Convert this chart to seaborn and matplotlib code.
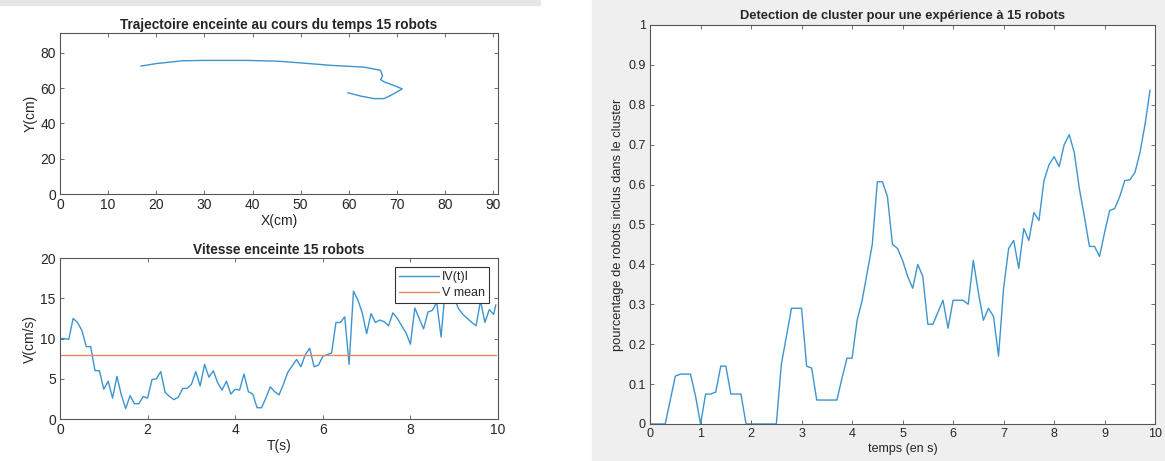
import numpy as np
import pandas as pd
import seaborn as sns
import matplotlib.pyplot as plt
from matplotlib.patches import Rectangle

# -------------------------------
# Data
# -------------------------------
traj_x = [16.8, 20.0, 25.4, 30.0, 39.0, 45.0, 49.5, 56.3, 63.2, 66.6, 67.0,
          66.6, 67.3, 69.4, 71.1, 69.7, 68.4, 67.3, 65.3, 62.5, 59.8]
traj_y = [72.4, 73.8, 75.4, 75.6, 75.6, 75.2, 74.3, 72.8, 71.8, 70.0, 66.7,
          64.8, 63.5, 61.4, 59.5, 57.3, 55.4, 54.0, 54.0, 55.4, 57.3]

speed_t = [round(0.1 * i, 1) for i in range(100)] + [9.95]
speed_v = [10.0, 10.0, 9.9, 12.5, 12.0, 11.0, 9.0, 9.0, 6.0, 6.0,
           3.7, 4.7, 2.6, 5.3, 3.0, 1.3, 2.9, 1.9, 1.9, 2.8,
           2.6, 4.9, 5.0, 5.9, 3.3, 2.8, 2.4, 2.7, 3.8, 3.8,
           4.3, 5.9, 4.1, 6.8, 5.2, 6.0, 4.5, 3.6, 4.7, 3.1,
           3.7, 3.6, 5.6, 3.4, 3.1, 1.4, 1.4, 2.6, 4.0, 3.4,
           3.0, 4.3, 5.8, 6.6, 7.4, 6.5, 8.0, 8.8, 6.5, 6.7,
           7.8, 8.0, 8.2, 12.0, 12.0, 12.7, 6.8, 15.9, 14.8, 13.2,
           10.6, 13.1, 12.0, 12.3, 12.1, 11.6, 13.2, 12.5, 11.6, 10.7,
           9.3, 13.8, 12.5, 11.2, 13.3, 13.5, 14.5, 10.2, 16.5, 15.5,
           15.0, 13.7, 13.0, 12.5, 12.0, 11.6, 14.7, 12.0, 13.6, 13.0,
           14.2]
v_mean = 8.0

clust_t = [round(0.1 * i, 1) for i in range(100)]
clust_p = [0.0, 0.0, 0.0, 0.0, 0.06, 0.12, 0.125, 0.125, 0.125, 0.07,
           0.0, 0.075, 0.075, 0.08, 0.145, 0.145, 0.075, 0.075, 0.075, 0.0,
           0.0, 0.0, 0.0, 0.0, 0.0, 0.0, 0.15, 0.22, 0.29, 0.29,
           0.29, 0.145, 0.14, 0.06, 0.06, 0.06, 0.06, 0.06, 0.115, 0.165,
           0.165, 0.26, 0.31, 0.38, 0.45, 0.607, 0.607, 0.57, 0.45, 0.44,
           0.41, 0.37, 0.34, 0.40, 0.37, 0.25, 0.25, 0.28, 0.31, 0.24,
           0.31, 0.31, 0.31, 0.30, 0.41, 0.33, 0.26, 0.29, 0.27, 0.17,
           0.34, 0.44, 0.46, 0.39, 0.49, 0.46, 0.53, 0.51, 0.61, 0.65,
           0.67, 0.645, 0.70, 0.725, 0.68, 0.59, 0.52, 0.445, 0.445, 0.42,
           0.48, 0.535, 0.54, 0.57, 0.61, 0.612, 0.63, 0.68, 0.75, 0.837]

traj = pd.DataFrame({"x": traj_x, "y": traj_y})
speed = pd.DataFrame({"t": speed_t, "v": speed_v})
clust = pd.DataFrame({"t": clust_t, "p": clust_p})

# -------------------------------
# Style (MATLAB-like)
# -------------------------------
sns.set_style("ticks")
plt.rcParams["font.family"] = ["Liberation Sans", "DejaVu Sans"]
plt.rcParams["axes.edgecolor"] = "#555555"
plt.rcParams["xtick.color"] = "#555555"
plt.rcParams["ytick.color"] = "#555555"
plt.rcParams["xtick.labelcolor"] = "#262626"
plt.rcParams["ytick.labelcolor"] = "#262626"

blue = "#3d94cf"
orange = "#e8875c"

fig = plt.figure(figsize=(11.65, 4.61), dpi=100, facecolor="white")
fig.patches.append(Rectangle((592 / 1165, 0), 1 - 592 / 1165, 1,
                             transform=fig.transFigure, color="#efefef", zorder=-10))
fig.patches.append(Rectangle((0, 1 - 5 / 461), 540 / 1165, 5 / 461,
                             transform=fig.transFigure, color="#e6e6e6", zorder=-10))

ax1 = fig.add_axes([0.0515, 0.579, 0.376, 0.349])
ax2 = fig.add_axes([0.0515, 0.0911, 0.376, 0.349])
ax3 = fig.add_axes([0.558, 0.0803, 0.4335, 0.8655])


def matlab_box(ax, size):
    ax.tick_params(direction="in", top=True, right=True, length=3,
                   width=0.6, labelsize=size, pad=3)
    for s in ax.spines.values():
        s.set_visible(True)
        s.set_linewidth(0.8)


# Trajectory
sns.lineplot(data=traj, x="x", y="y", sort=False, estimator=None,
             color=blue, lw=1, ax=ax1)
ax1.set_xlim(0, 91)
ax1.set_ylim(0, 91)
ax1.set_xticks(range(0, 91, 10))
ax1.set_yticks(range(0, 81, 20))
ax1.set_title("Trajectoire enceinte au cours du temps 15 robots",
              fontsize=9.8, fontweight="bold", pad=3)
ax1.set_xlabel("X(cm)", fontsize=10, labelpad=1)
ax1.set_ylabel("Y(cm)", fontsize=10, labelpad=2)
matlab_box(ax1, 10)

# Speed
sns.lineplot(data=speed, x="t", y="v", estimator=None, color=blue, lw=1,
             ax=ax2, label="IV(t)I")
ax2.plot([speed_t[0], speed_t[-1]], [v_mean, v_mean], color=orange, lw=1,
         label="V mean")
ax2.set_xlim(0, 10)
ax2.set_ylim(0, 20)
ax2.set_xticks(range(0, 11, 2))
ax2.set_yticks(range(0, 21, 5))
ax2.set_title("Vitesse enceinte 15 robots", fontsize=9.8, fontweight="bold", pad=3)
ax2.set_xlabel("T(s)", fontsize=10, labelpad=1)
ax2.set_ylabel("V(cm/s)", fontsize=10, labelpad=2)
leg = ax2.legend(loc="upper right", fontsize=9, frameon=True, fancybox=False,
                 framealpha=1, edgecolor="#333333", borderpad=0.35,
                 handlelength=3.2, handletextpad=0.2, labelspacing=0.3,
                 borderaxespad=0.7)
leg.get_frame().set_linewidth(0.8)
leg.set_zorder(5)
matlab_box(ax2, 10)

# Cluster detection
sns.lineplot(data=clust, x="t", y="p", estimator=None, color=blue, lw=1, ax=ax3)
ax3.set_xlim(0, 10)
ax3.set_ylim(0, 1)
ax3.set_xticks(range(0, 11))
ax3.set_yticks(np.round(np.arange(0, 1.01, 0.1), 1))
ax3.set_yticklabels(["0", "0.1", "0.2", "0.3", "0.4", "0.5", "0.6", "0.7",
                     "0.8", "0.9", "1"])
ax3.set_title("Detection de cluster pour une expérience à 15 robots",
              fontsize=9.3, fontweight="bold", pad=4)
ax3.set_xlabel("temps (en s)", fontsize=9, labelpad=2)
ax3.set_ylabel("pourcentage de robots inclus dans le cluster", fontsize=9.3,
               labelpad=3)
matlab_box(ax3, 9)
ax3.set_facecolor("white")

plt.savefig("out.png", dpi=100, facecolor=fig.get_facecolor())
